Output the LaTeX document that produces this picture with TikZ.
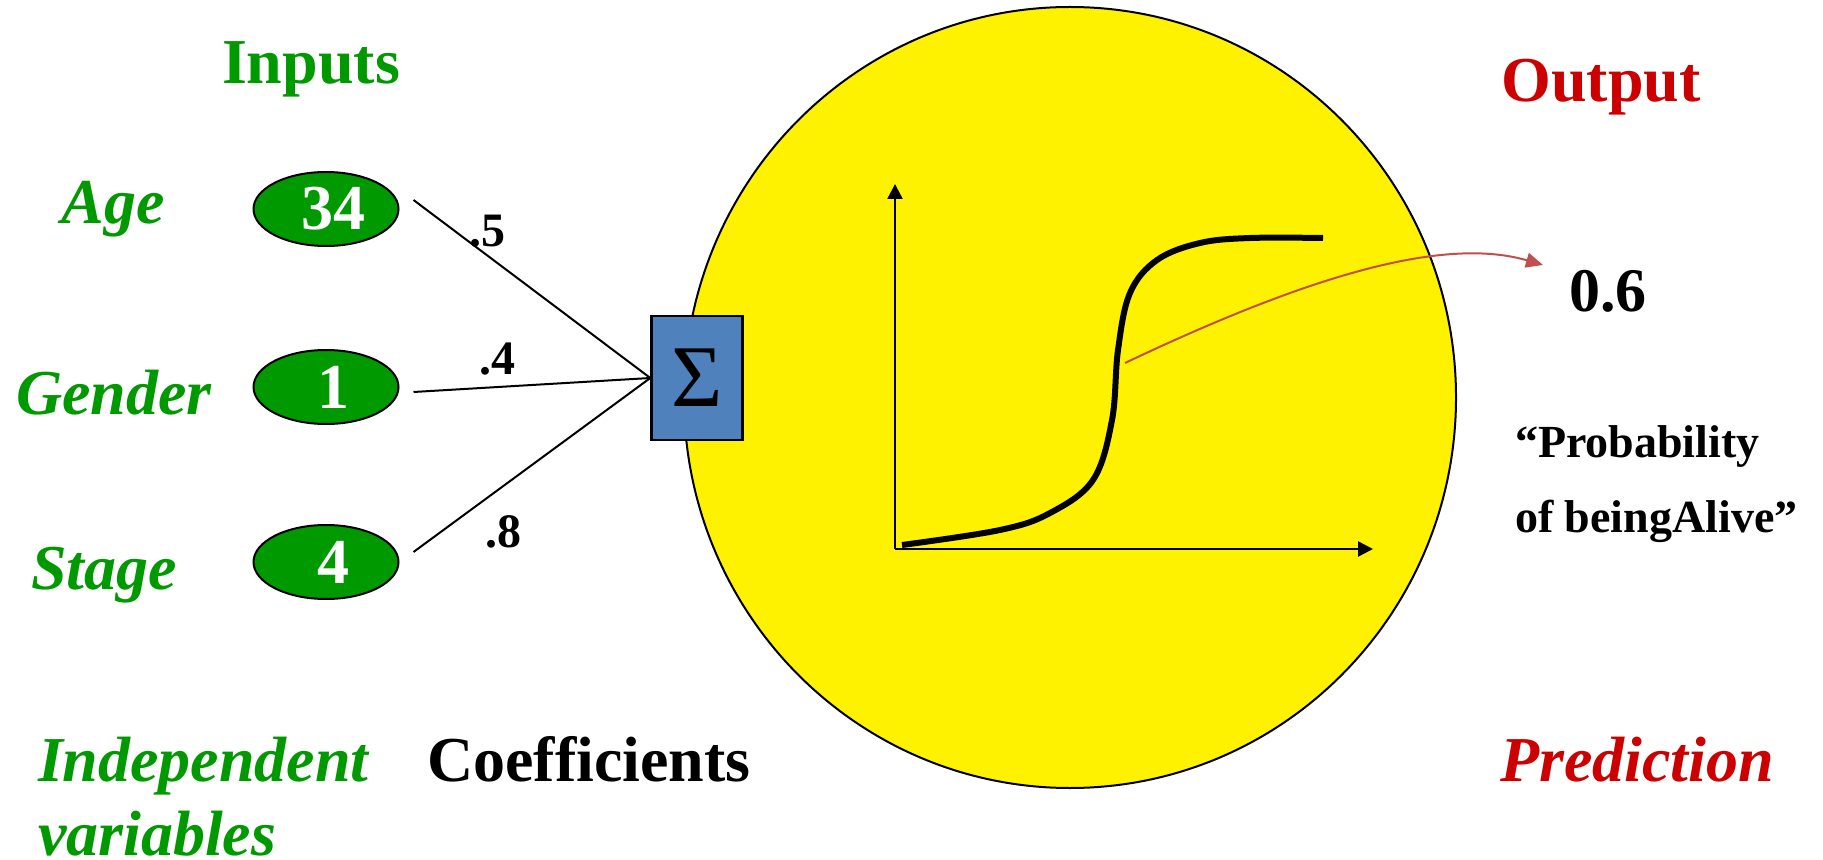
\documentclass[tikz,border=0pt]{standalone}
\usepackage{fontspec}
\setmainfont{Liberation Serif}
\usetikzlibrary{arrows.meta,shapes.geometric}
\definecolor{mygreen}{RGB}{0,153,0}
\definecolor{myred}{RGB}{204,0,0}
\definecolor{myblue}{RGB}{79,129,189}
\definecolor{myrose}{RGB}{192,80,77}

\begin{document}
\begin{tikzpicture}[x=0.5pt,y=-0.5pt,
    headgreen/.style={text=mygreen,font=\fontsize{32}{37}\selectfont\bfseries},
    headred/.style={text=myred,font=\fontsize{32}{37}\selectfont\bfseries},
    varlabel/.style={text=mygreen,font=\fontsize{32}{37}\selectfont\bfseries\itshape},
    innode/.style={ellipse,draw,line width=1pt,fill=mygreen,text=white,
      minimum width=72.5pt,minimum height=37pt,inner sep=0pt,
      font=\fontsize{32}{36}\selectfont\bfseries},
    wlabel/.style={font=\fontsize{24}{28}\selectfont\bfseries},
    wire/.style={line width=1pt},
    axis/.style={line width=1.2pt,-{Triangle[length=7.5pt,width=7.5pt]}}]
  \useasboundingbox (0,0) rectangle (1823,860);

  % the neuron
  \node[ellipse,draw,line width=1pt,fill=yellow,minimum width=386pt,minimum height=390.5pt,
    inner sep=0pt] (neuron) at (1070,397.5) {};

  % inputs
  \node[headgreen,anchor=base] (inputs) at (311,84) {Inputs};
  \node[varlabel,anchor=base] (agelab) at (113,224) {Age};
  \node[varlabel,anchor=base] (genlab) at (114,415) {Gender};
  \node[varlabel,anchor=base] (stglab) at (104,589) {Stage};
  \node[innode] (age) at (326,209) {\hspace{7pt}34};
  \node[innode] (gender) at (326,387) {\hspace{7pt}1};
  \node[innode] (stage) at (326,562) {\hspace{7pt}4};

  % summation
  \node[draw,line width=1.2pt,fill=myblue,minimum width=45.5pt,minimum height=62pt,
    inner sep=0pt,font=\fontsize{44}{48}\selectfont] (sum) at (697,378) {Σ};
  \draw[wire] ([xshift=7pt,yshift=4.5pt]age.east) -- (sum.west);
  \draw[wire] ([xshift=7pt,yshift=-2.5pt]gender.east) -- (sum.west);
  \draw[wire] ([xshift=7pt,yshift=5pt]stage.east) -- (sum.west);
  \node[wlabel,anchor=base] (w1) at (487,247) {.5};
  \node[wlabel,anchor=base] (w2) at (497,375) {.4};
  \node[wlabel,anchor=base] (w3) at (503,547) {.8};

  % sigmoid plot
  \coordinate (o) at (895,549);
  \coordinate (ytop) at (895,184);
  \coordinate (xend) at (1373,549);
  \draw[axis] (o) -- (ytop);
  \draw[axis] (o) -- (xend);
  \draw[line width=3pt] plot[smooth,tension=0.6] coordinates
    {(902,545) (1000,530) (1050,513) (1093,480) (1112,420) (1118,350)
     (1130,293) (1157,260) (1200,243) (1250,238) (1323,238)};

  % output
  \node[headred,anchor=base] (output) at (1601,102) {Output};
  \node[font=\fontsize{31}{36}\selectfont\bfseries,anchor=base] (val) at (1608,312) {0.6};
  \node[font=\fontsize{23}{37.5}\selectfont\bfseries,align=left,anchor=base west] (prob)
    at (1508,532) {“Probability\\of beingAlive”};
  \coordinate (pmid) at (1125,363);
  \coordinate (ptip) at (1543,265);
  \draw[myrose,line width=1pt,-{Triangle[length=8.5pt,width=7.5pt]}]
    (pmid) .. controls (1300,280) and (1440,235) .. (ptip);

  % bottom row
  \node[varlabel,align=left,anchor=base west] (indep) at (31,855) {Independent\\variables};
  \node[font=\fontsize{32}{37}\selectfont\bfseries,anchor=base] (coef) at (589,781) {Coefficients};
  \node[text=myred,font=\fontsize{32}{37}\selectfont\bfseries\itshape,anchor=base] (pred)
    at (1637,781) {Prediction};
\end{tikzpicture}
\end{document}
